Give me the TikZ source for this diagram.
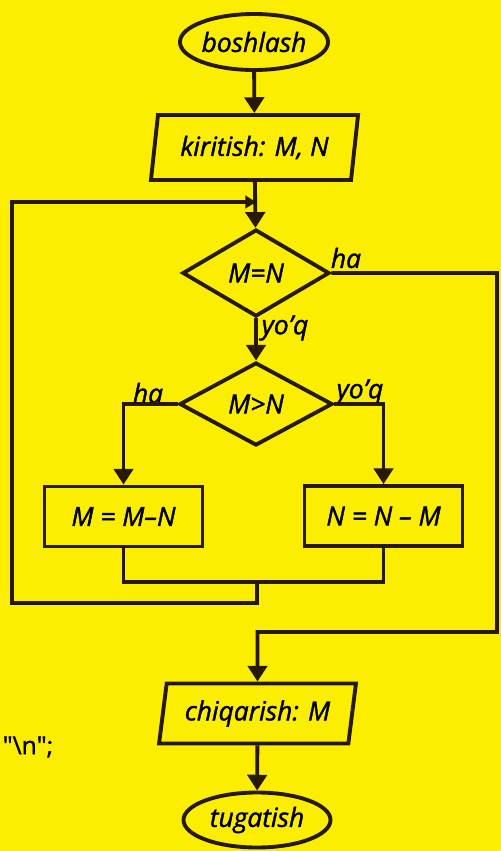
\documentclass[tikz,border=0pt]{standalone}
\usepackage{fontspec}
\setsansfont{Open Sans}[FakeBold=1.4]
\usepackage{tikz}
\usetikzlibrary{arrows.meta,shapes.geometric}
\definecolor{bgyellow}{RGB}{252,238,0}
\definecolor{ink}{RGB}{38,26,4}

\begin{document}
\begin{tikzpicture}

		\tikzset{every node/.style = {font=\sffamily\itshape\fontsize{15}{18}\selectfont,text=black}}
		\tikzset{line/.style = {draw=ink,line width=2.2pt}}
		\tikzset{edge/.style = {line,->,> = {Triangle[length=9pt,width=11pt]}}}
		\tikzset{back/.style = {line,->,> = {Triangle[length=6pt,width=7pt]}}}
		\tikzset{term/.style = {line,shape=ellipse,inner sep=0pt,minimum width=2.92cm,minimum height=1.12cm}}
		\tikzset{io/.style = {line,shape=trapezium,trapezium left angle=77,trapezium right angle=103,trapezium stretches=true,inner sep=0pt,minimum height=1.3cm}}
		\tikzset{test/.style = {line,shape=diamond,inner sep=0pt}}
		\tikzset{proc/.style = {line,shape=rectangle,inner sep=0pt,minimum width=3.16cm,minimum height=1.2cm}}

		\fill[bgyellow] (0,0) rectangle (10.02,-17.02);
		\useasboundingbox (0,0) rectangle (10.02,-17.02);

		% vertices
		\node[term] (start) at (5.08,-0.84) {boshlash};
		\node[io,minimum width=4.16cm] (input) at (5.09,-2.95) {kiritish: M, N};
		\node[test,minimum width=2.94cm,minimum height=1.74cm] (eq) at (5.12,-5.46) {M=N};
		\node[test,minimum width=3.06cm,minimum height=1.66cm] (gt) at (5.12,-8.08) {M>N};
		\node[proc] (lbox) at (2.47,-10.33) {M = M\textendash N};
		\node[proc] (rbox) at (7.67,-10.32) {N = N \textendash\ M};
		\node[io,minimum width=3.96cm,minimum height=1.2cm] (output) at (5.15,-14.27) {chiqarish: M};
		\node[term,minimum width=2.94cm,minimum height=1.1cm] (stop) at (5.14,-16.4) {tugatish};

		\coordinate (join) at (5.12,-4.04);
		\coordinate (merge) at (5.14,-11.64);
		\coordinate (loopbot) at (0.24,-12.06);
		\coordinate (rcorner) at (9.94,-12.64);
		\coordinate (outjoin) at (5.15,-12.64);

		% labels
		\node (ha1) at (6.92,-5.16) {ha};
		\node (no1) at (5.7,-6.56) {yo’q};
		\node (ha2) at (2.96,-7.86) {ha};
		\node (no2) at (7.2,-7.84) {yo’q};
		\node[font=\sffamily\fontsize{14}{16}\selectfont] (nl) at (0.56,-14.94) {\textquotedbl\textbackslash n\textquotedbl;};

		%edges
		\draw[edge] (start) -- (input);
		\draw[edge] (input) -- (eq);
		\draw[edge] (eq) -- (gt);
		\draw[edge] (gt.west) -| (lbox);
		\draw[edge] (gt.east) -| (rbox);
		\draw[line] (lbox) |- (merge) -| (rbox);
		\draw[back] (merge) |- (loopbot) |- (join);
		\draw[edge] (eq.east) -| (rcorner) -- (outjoin) -- (output);
		\draw[edge] (output) -- (stop);
		\end{tikzpicture}
\end{document}
